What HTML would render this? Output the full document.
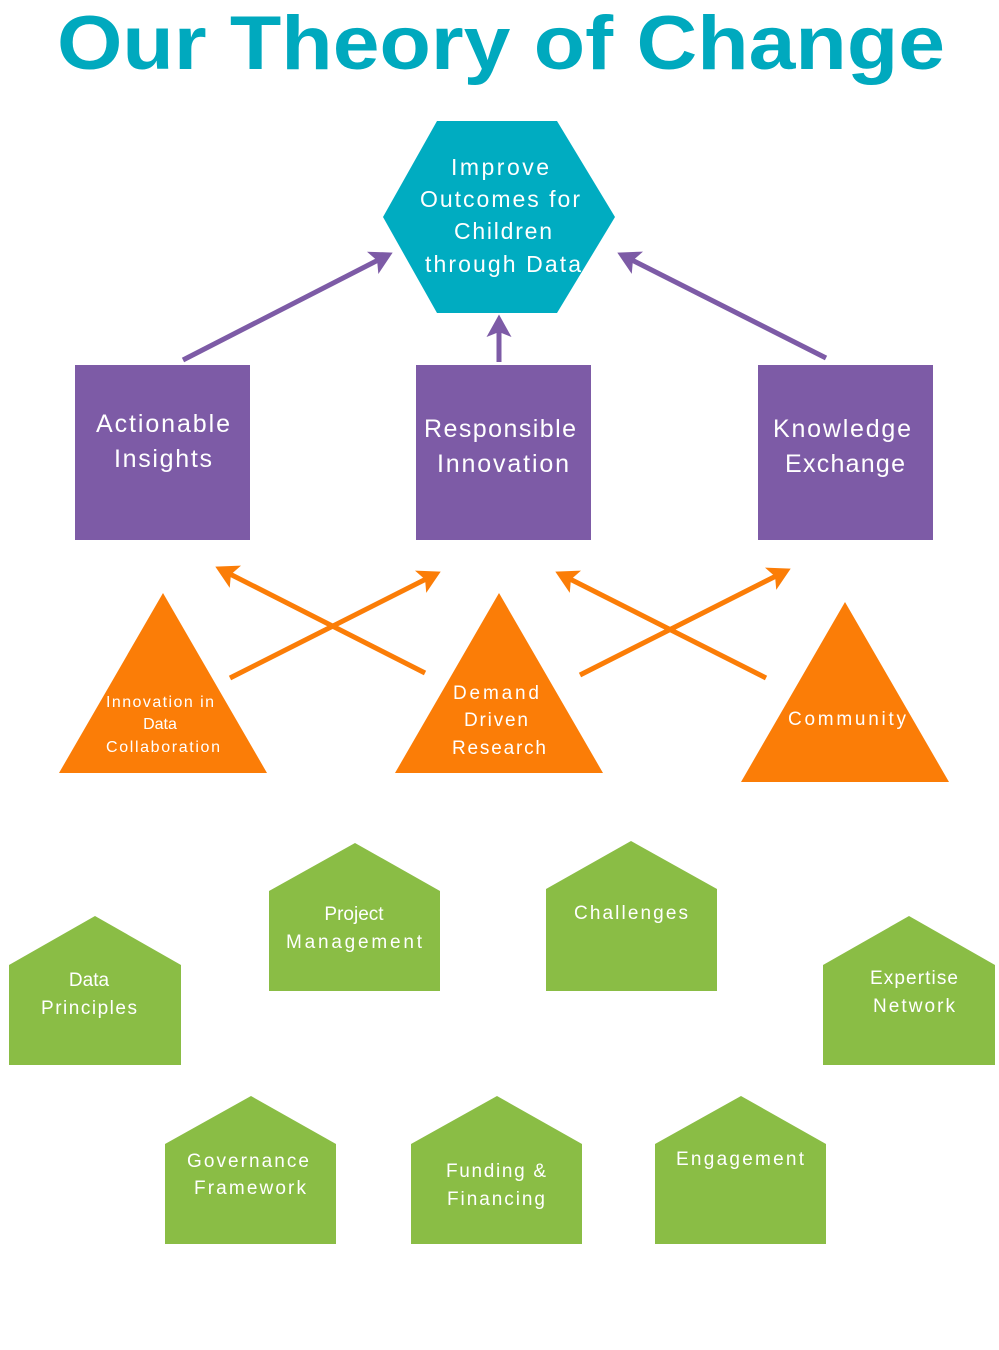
<!DOCTYPE html>
<html><head><meta charset="utf-8"><style>
html,body{margin:0;padding:0;background:#fff;}
svg{display:block;}
text{font-family:"Liberation Sans",sans-serif;fill:#fff;text-anchor:middle;}
</style></head><body>
<svg width="999" height="1350" viewBox="0 0 999 1350" xmlns="http://www.w3.org/2000/svg">
<defs>
<marker id="pa" markerWidth="5" markerHeight="5" refX="3" refY="2.5" orient="auto" markerUnits="strokeWidth"><path d="M0,0 L4.5,2.5 L0,5 L1,2.5 Z" fill="#7d5ba6"/></marker>
<marker id="oa" markerWidth="5" markerHeight="5" refX="3" refY="2.5" orient="auto" markerUnits="strokeWidth"><path d="M0,0 L4.5,2.5 L0,5 L1,2.5 Z" fill="#fb7d07"/></marker>
</defs>
<text x="501" y="69" font-size="76" font-weight="bold" style="fill:#00a9be" textLength="888" lengthAdjust="spacingAndGlyphs">Our Theory of Change</text>

<polygon points="437,121 557,121 615,217 557,313 437,313 383,217" fill="#00acc1"/>
<g font-size="23"><text x="500" y="175" textLength="98">Improve</text><text x="500" y="207" textLength="160">Outcomes for</text><text x="503" y="239" textLength="98">Children</text><text x="503" y="272" textLength="156">through Data</text></g>

<g stroke="#7d5ba6" stroke-width="5" fill="none">
<line x1="183" y1="360" x2="386" y2="256" marker-end="url(#pa)"/>
<line x1="499" y1="362" x2="499" y2="322" marker-end="url(#pa)"/>
<line x1="826" y1="358" x2="624" y2="256" marker-end="url(#pa)"/>
</g>

<g fill="#7d5ba6"><rect x="75" y="365" width="175" height="175"/><rect x="416" y="365" width="175" height="175"/><rect x="758" y="365" width="175" height="175"/></g>
<g font-size="25"><text x="163" y="432" textLength="134">Actionable</text><text x="163" y="467" textLength="98">Insights</text>
<text x="500" y="437" textLength="152">Responsible</text><text x="503" y="472" textLength="132">Innovation</text>
<text x="842" y="437" textLength="138">Knowledge</text><text x="845" y="472" textLength="120">Exchange</text></g>

<g fill="#fb7d07"><polygon points="163,593 267,773 59,773"/><polygon points="499,593 603,773 395,773"/><polygon points="845,602 949,782 741,782"/></g>
<g stroke="#fb7d07" stroke-width="5" fill="none">
<line x1="230" y1="678" x2="434" y2="575" marker-end="url(#oa)"/>
<line x1="425" y1="673" x2="222" y2="570" marker-end="url(#oa)"/>
<line x1="580" y1="675" x2="784" y2="572" marker-end="url(#oa)"/>
<line x1="766" y1="678" x2="562" y2="575" marker-end="url(#oa)"/>
</g>
<g font-size="16"><text x="160" y="707" textLength="108">Innovation in</text><text x="160" y="729">Data</text><text x="163" y="752" textLength="114">Collaboration</text></g>
<g font-size="19"><text x="496" y="699" textLength="86">Demand</text><text x="496" y="726" textLength="64">Driven</text><text x="499" y="754" textLength="94">Research</text>
<text x="847" y="725" textLength="118">Community</text></g>

<g fill="#8abd45">
<polygon points="9,965 95,916 181,965 181,1065 9,1065"/>
<polygon points="269,891 355,843 440,891 440,991 269,991"/>
<polygon points="546,889 631,841 717,889 717,991 546,991"/>
<polygon points="823,965 909,916 995,965 995,1065 823,1065"/>
<polygon points="165,1144 251,1096 336,1144 336,1244 165,1244"/>
<polygon points="411,1144 497,1096 582,1144 582,1244 411,1244"/>
<polygon points="655,1144 741,1096 826,1144 826,1244 655,1244"/>
</g>
<g font-size="19">
<text x="89" y="986">Data</text><text x="89" y="1014" textLength="96">Principles</text>
<text x="354" y="920">Project</text><text x="354" y="948" textLength="136">Management</text>
<text x="631" y="919" textLength="114">Challenges</text>
<text x="914" y="984" textLength="88">Expertise</text><text x="914" y="1012" textLength="82">Network</text>
<text x="248" y="1167" textLength="122">Governance</text><text x="250" y="1194" textLength="112">Framework</text>
<text x="496" y="1177" textLength="100">Funding &amp;</text><text x="496" y="1205" textLength="98">Financing</text>
<text x="740" y="1165" textLength="128">Engagement</text>
</g>
</svg>
</body></html>
